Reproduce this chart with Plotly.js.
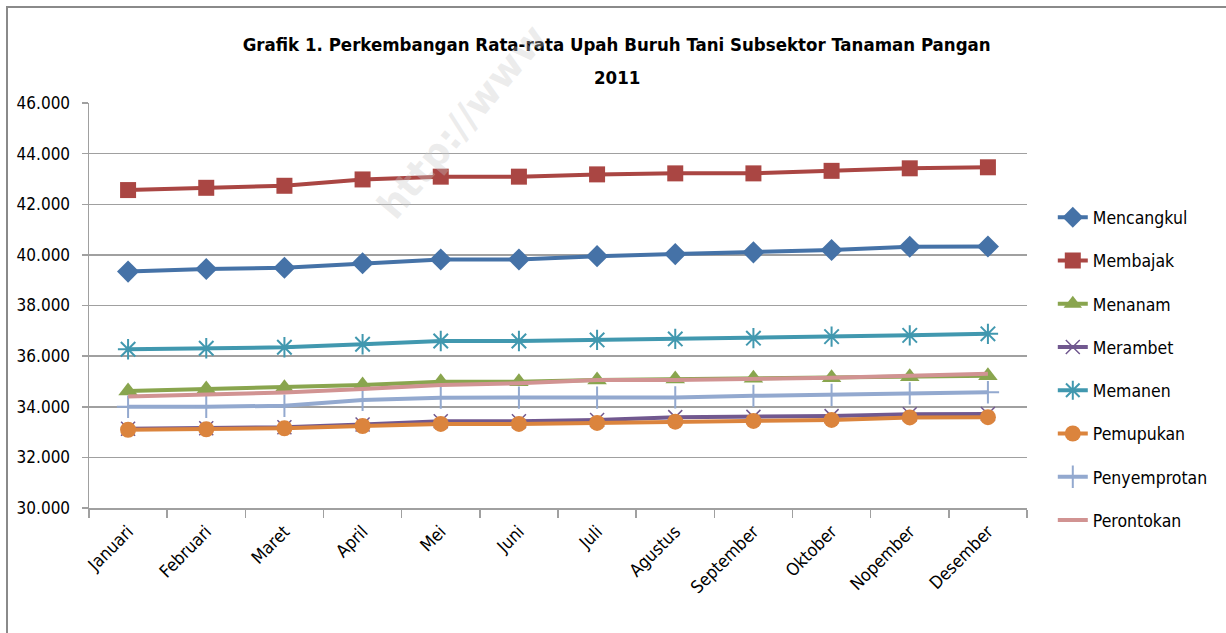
<!DOCTYPE html>
<html>
<head>
<meta charset="utf-8">
<script src="https://cdn.plot.ly/plotly-3.0.1.min.js"></script>
<style>
  html, body { margin: 0; padding: 0; background: #ffffff; }
  #wrap { position: relative; width: 1226px; height: 633px; overflow: hidden; }
  #chart { position: absolute; left: 0; top: 0; width: 1226px; height: 633px; }
  #frame { position: absolute; left: 6px; top: 6px; width: 1300px; height: 700px;
           border-left: 2px solid #8a8a8a; border-top: 2px solid #8a8a8a; pointer-events: none; }
</style>
</head>
<body>
<div id="wrap">
  <div id="chart"></div>
  <div id="frame"></div>
</div>
<script>
const months = ["Januari","Februari","Maret","April","Mei","Juni","Juli","Agustus","September","Oktober","Nopember","Desember"];

const mencangkul   = [39340, 39440, 39490, 39670, 39820, 39820, 39950, 40030, 40100, 40190, 40320, 40330];
const membajak     = [42560, 42650, 42730, 42980, 43090, 43090, 43180, 43220, 43220, 43320, 43420, 43460];
const menanam      = [34620, 34700, 34750, 34860, 34990, 34990, 35060, 35100, 35130, 35150, 35190, 35220];
const merambet     = [33130, 33150, 33190, 33300, 33430, 33430, 33480, 33590, 33600, 33630, 33700, 33710];
const memanen      = [36270, 36310, 36350, 36470, 36600, 36600, 36640, 36680, 36710, 36770, 36820, 36880];
const pemupukan    = [33090, 33110, 33150, 33240, 33320, 33320, 33360, 33410, 33440, 33480, 33580, 33590];
const penyemprotan = [34000, 34000, 34040, 34270, 34360, 34360, 34360, 34370, 34430, 34470, 34530, 34570];
const perontokan   = [34400, 34490, 34560, 34700, 34860, 34930, 35060, 35060, 35100, 35150, 35220, 35300];

const yTicks = [30000, 32000, 34000, 36000, 38000, 40000, 42000, 44000, 46000];
const yTickText = ["30.000","32.000","34.000","36.000","38.000","40.000","42.000","44.000","46.000"];

const titleLine1 = 'Grafik 1. Perkembangan Rata-rata Upah Buruh Tani Subsektor Tanaman Pangan';
const titleLine2 = '2011';

const FONT = '"DejaVu Sans Condensed", "Liberation Sans Narrow", Arial, sans-serif';

function tr(name, y, color, symbol, size, mline, grp) {
  const t = {
    type: 'scatter', mode: symbol ? 'lines+markers' : 'lines',
    name: name, x: months, y: y,
    legendgroup: grp,
    line: { color: color, width: 4 },
  };
  if (symbol) {
    t.marker = { symbol: symbol, size: size, color: color,
                 line: { color: color, width: mline } };
  }
  return t;
}

const data = [
  tr('Mencangkul', mencangkul, '#4572A7', 'diamond', 17, 0, 'g1'),
  tr('Membajak', membajak, '#AA4643', 'square', 16, 0, 'g2'),
  tr('Menanam', menanam, '#89A54E', 'triangle-up', 17, 0, 'g3'),
  tr('Merambet', merambet, '#71588F', 'x-thin-open', 14, 1.5, 'g4'),
  tr('Memanen', memanen, '#4198AF', 'asterisk-open', 17, 2, 'g5'),
  tr('Pemupukan', pemupukan, '#DB843D', 'circle', 16, 0, 'g6'),
  tr('Penyemprotan', penyemprotan, '#93A9CF', 'cross-thin-open', 16, 2, 'g7'),
  tr('Perontokan', perontokan, '#D19392', null, 0, 0, 'g8'),
];

const layout = {
  width: 1226, height: 633,
  paper_bgcolor: '#ffffff', plot_bgcolor: '#ffffff',
  margin: { l: 89, r: 199, t: 103, b: 125, pad: 0 },
  font: { family: FONT, color: '#000000', size: 17 },
  title: {
    text: '<b>' + titleLine1 + '</b>',
    font: { family: FONT, size: 18.5, color: '#000000' },
    x: 0.503, xanchor: 'center', xref: 'container',
    y: 1 - 45 / 633, yanchor: 'middle', yref: 'container'
  },
  xaxis: {
    type: 'category',
    tickangle: -45,
    tickson: 'boundaries',
    ticks: 'outside', ticklen: 8, tickcolor: '#a0a0a0', tickwidth: 1.5,
    ticklabelstandoff: 5,
    showline: true, linecolor: '#a0a0a0', linewidth: 1.5,
    showgrid: false, zeroline: false,
    tickfont: { family: FONT, size: 17.5, color: '#000000' },
    range: [-0.5, 11.5],
    fixedrange: true
  },
  yaxis: {
    range: [30000, 46000],
    tickvals: yTicks, ticktext: yTickText,
    ticks: 'outside', ticklen: 6, tickcolor: '#a0a0a0', tickwidth: 1.5,
    ticklabelstandoff: 8,
    showline: true, linecolor: '#a0a0a0', linewidth: 1.5,
    showgrid: true, gridcolor: '#a0a0a0', gridwidth: 1.5,
    zeroline: false,
    tickfont: { family: FONT, size: 17, color: '#000000' },
    fixedrange: true
  },
  legend: {
    x: 1.0275, xanchor: 'left', y: 0.762, yanchor: 'top',
    font: { family: FONT, size: 17.5, color: '#000000' },
    traceorder: 'grouped', tracegroupgap: 17.5,
    itemwidth: 30, bgcolor: 'rgba(0,0,0,0)'
  },
  showlegend: true,
  annotations: [
    {
      text: '<b>' + titleLine2 + '</b>', xref: 'paper', yref: 'paper',
      x: (617 - 89) / 938, y: (508 - 78) / 405, xanchor: 'center', yanchor: 'middle',
      showarrow: false,
      font: { family: FONT, size: 18.5, color: '#000000' }
    },
    {
      text: '<b>http://www</b>', xref: 'paper', yref: 'paper',
      x: (462 - 89) / 938, y: (508 - 122) / 405, xanchor: 'center', yanchor: 'middle',
      textangle: -50, showarrow: false,
      font: { family: 'DejaVu Sans', size: 38, color: 'rgba(200,200,200,0.35)' }
    }
  ]
};

Plotly.newPlot('chart', data, layout, { displayModeBar: false, staticPlot: true });
</script>
</body>
</html>
